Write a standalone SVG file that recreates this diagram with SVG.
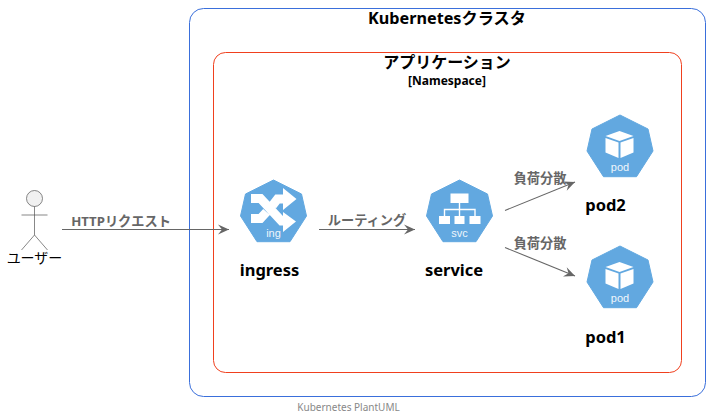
<svg xmlns="http://www.w3.org/2000/svg" width="710" height="419" viewBox="0 0 710 419">
<style>
text{font-family:"Noto Sans","Noto Sans CJK JP",sans-serif}
.t{font-weight:700;fill:#000;text-anchor:middle}
.n{font-size:16.500px}
.e{font-size:13.200px;font-weight:700;fill:#666;text-anchor:middle}
.i{font-family:"Liberation Sans",sans-serif;font-size:11px;fill:#fff;text-anchor:middle;opacity:.9}
.c{fill:none;stroke:#666;stroke-width:1.1}
.w{fill:#fff}
.ws{fill:none;stroke:#fff}
</style>
<defs>
<marker id="a" markerUnits="userSpaceOnUse" markerWidth="14" markerHeight="12" refX="11" refY="5" orient="auto" overflow="visible"><path d="M0 0L11 5L0 10L4 5Z" fill="#666"/></marker>
<path id="h" d="M0 -31.500L28 -17.500L33 4.500L16.500 30.200H-16.500L-33 4.500L-28 -17.500Z" fill="#62A8E0" stroke="#62A8E0" stroke-width="1" stroke-linejoin="round"/>
<g id="pod"><use href="#h"/><path class="w" d="M-.5 -15.500L-14.500 -10.500L-.5 -5.500L13.500 -10.500Z"/><path class="w" d="M-14.500 -8.500L-1.500 -4V11.500L-14.500 6Z"/><path class="w" d="M13.500 -8.500L.5 -4V11.500L13.500 6Z"/><text class="i" y="24.500">pod</text></g>
</defs>
<rect x="189.500" y="8.500" width="516" height="388" rx="14" fill="#fff" stroke="#3A6FDB" stroke-width="1"/>
<text class="t" x="447" y="24" font-size="16.200">Kubernetesクラスタ</text>
<rect x="213.500" y="52.500" width="468" height="320" rx="12" fill="#fff" stroke="#F0401E" stroke-width="1"/>
<text class="t" x="447" y="67.500" font-size="16">アプリケーション</text>
<text class="t" x="447" y="84.500" font-size="12">[Namespace]</text>
<g id="connectors">
<path class="c" d="M62 229.500H229" marker-end="url(#a)"/>
<path class="c" d="M319 229.500H415" marker-end="url(#a)"/>
<path class="c" d="M505 210.500L575 182" marker-end="url(#a)"/>
<path class="c" d="M505 247.500L575 276" marker-end="url(#a)"/>
<text class="e" x="121" y="226">HTTPリクエスト</text>
<text class="e" x="367" y="225">ルーティング</text>
<text class="e" x="540" y="183">負荷分散</text>
<text class="e" x="540" y="248">負荷分散</text>
</g>
<g id="user">
<circle cx="34.500" cy="198.500" r="8" fill="#F1F1F1" stroke="#555" stroke-width=".7"/>
<path d="M34.500 206.500V235M21.500 215H47.500M21.500 250L34.500 235L47.500 250" fill="none" stroke="#555" stroke-width=".7"/>
<text x="34.500" y="263" font-size="14" text-anchor="middle" fill="#000">ユーザー</text>
</g>
<g id="ingress" transform="translate(273.500 211.500)">
<use href="#h"/>
<path class="ws" stroke-width="9" d="M-22.500 -13H-13L8 9.500H11M-22.500 7H-13L-7 .5M-1 -6L4 -12.500H11"/>
<path class="w" d="M9.500 -23.500L23 -12.500L9.500 -1.500ZM9.500 .5L22.500 10L9.500 20.500Z"/>
<text class="i" y="25">ing</text>
<text class="t n" y="64.500" x="-4">ingress</text>
</g>
<g id="service" transform="translate(459.500 211.500)">
<use href="#h"/>
<rect class="w" x="-9" y="-18" width="18" height="9.500"/>
<path class="ws" stroke-width="1.400" d="M0 -8.500V4.500M-15 4.500V-2H15.500V4.500"/>
<rect class="w" x="-20.500" y="4.500" width="11" height="8"/><rect class="w" x="-5" y="4.500" width="10" height="8"/><rect class="w" x="10" y="4.500" width="11" height="8"/>
<text class="i" y="25">svc</text>
<text class="t n" y="64.500" x="-5.500">service</text>
</g>
<g id="pod2" transform="translate(620 146.500)">
<use href="#pod"/>
<text class="t n" y="64.500" x="-14.500">pod2</text>
</g>
<g id="pod1" transform="translate(620 277.500)">
<use href="#pod"/>
<text class="t n" y="65" x="-14.500">pod1</text>
</g>
<text x="348.500" y="411" font-size="10" fill="#888" text-anchor="middle">Kubernetes PlantUML</text>
</svg>
